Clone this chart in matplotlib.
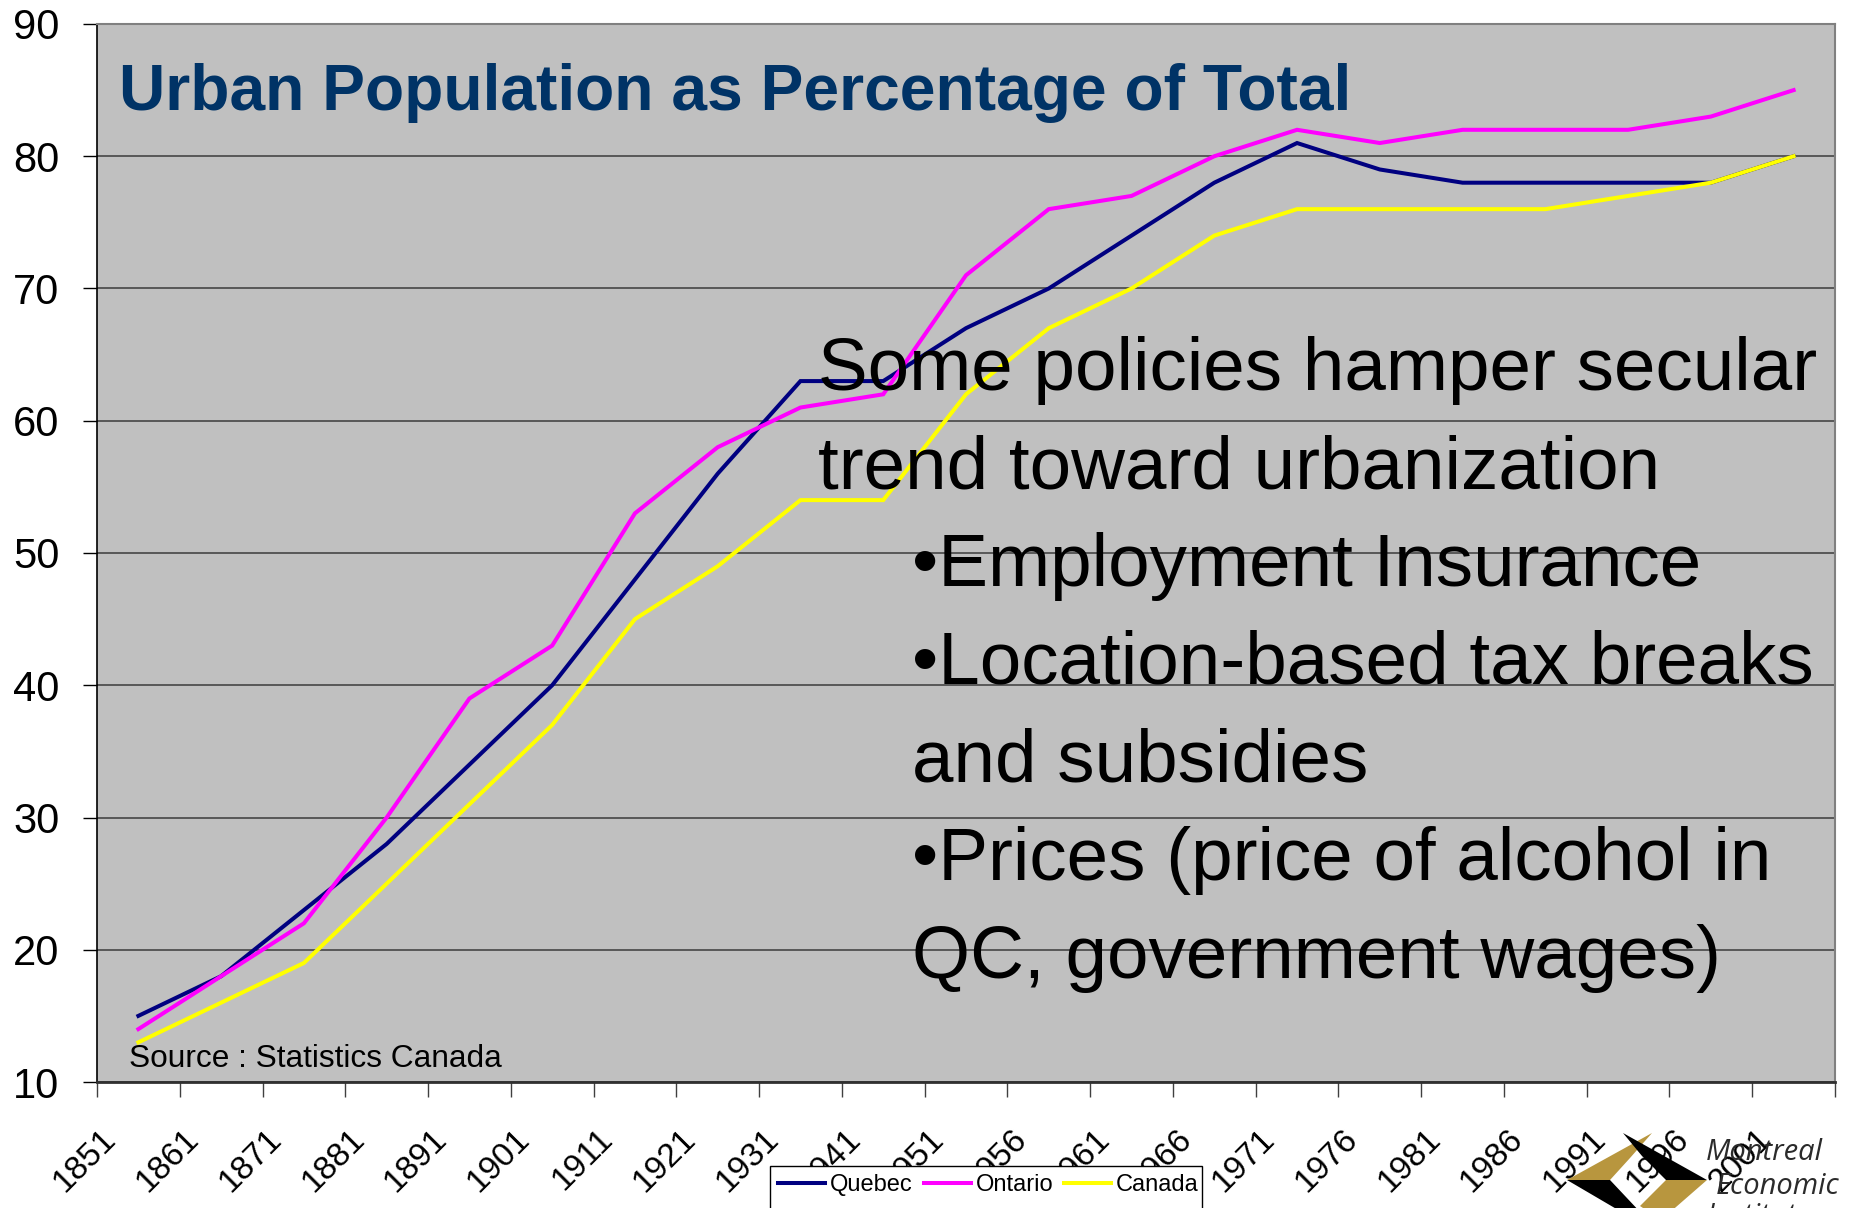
import matplotlib
matplotlib.use("Agg")
import matplotlib.pyplot as plt
import matplotlib.transforms as mtransforms
from matplotlib.patches import Polygon, Rectangle

# ---------------- data ----------------
years = ['1851', '1861', '1871', '1881', '1891', '1901', '1911', '1921', '1931', '1941',
         '1951', '1956', '1961', '1966', '1971', '1976', '1981', '1986', '1991', '1996', '2001']
quebec = [15, 18, 23, 28, 34, 40, 48, 56, 63, 63, 67, 70, 74, 78, 81, 79, 78, 78, 78, 78, 80]
ontario = [14, 18, 22, 30, 39, 43, 53, 58, 61, 62, 71, 76, 77, 80, 82, 81, 82, 82, 82, 83, 85]
canada = [13, 16, 19, 25, 31, 37, 45, 49, 54, 54, 62, 67, 70, 74, 76, 76, 76, 76, 77, 78, 80]
series_names = ['Quebec', 'Ontario', 'Canada']
y_ticks = [10, 20, 30, 40, 50, 60, 70, 80, 90]

title = "Urban Population as Percentage of Total"
source = "Source : Statistics Canada"
note_lines = ["Some policies hamper secular", "trend toward urbanization"]
bullet_lines = ["\u2022Employment Insurance", "\u2022Location-based tax breaks", "and subsidies",
                "\u2022Prices (price of alcohol in", "QC, government wages)"]
logo_words = ["Montreal", "Economic", "Institute"]

# ---------------- style ----------------
plt.rcParams['font.family'] = ['Liberation Sans', 'DejaVu Sans']
W, H = 1858, 1208
fig = plt.figure(figsize=(W / 100, H / 100), dpi=100)
fig.patch.set_facecolor('white')


def fx(x):
    return x / W


def fy(y):
    return 1 - y / H


L, R, T, B = 97, 1835, 24, 1082
ax = fig.add_axes([fx(L), fy(B), (R - L) / W, (B - T) / H])
ax.set_facecolor('#C0C0C0')

colors = ['#000080', '#FF00FF', '#FFFF00']
xs = list(range(len(years)))
for vals, c, name in zip([quebec, ontario, canada], colors, series_names):
    ax.plot(xs, vals, color=c, lw=2.9, label=name, zorder=3, solid_joinstyle='miter')

ax.set_xlim(-0.5, len(years) - 0.5)
ax.set_ylim(10, 90)
ax.set_yticks(y_ticks)
ax.set_yticklabels([str(v) for v in y_ticks], fontsize=30)
ax.tick_params(axis='y', direction='out', length=10, width=1, pad=17, color='black')
ax.yaxis.grid(True, color='#3c3c3c', lw=1.1, zorder=1)
ax.set_axisbelow(True)

# x ticks: labels at category centres, tick marks at boundaries
ax.set_xticks(xs)
ax.set_xticklabels(years, fontsize=24, rotation=45, ha='right', va='top')
ax.set_xticks([i - 0.5 for i in range(len(years) + 1)], minor=True)
ax.tick_params(axis='x', which='major', length=0, pad=30)
ax.tick_params(axis='x', which='minor', direction='out', length=11, width=1, color='#404040')
off = mtransforms.ScaledTranslation(-16 / 100, 0, fig.dpi_scale_trans)
for lab in ax.get_xticklabels():
    lab.set_transform(lab.get_transform() + off)

ax.spines['left'].set_color('black')
ax.spines['left'].set_linewidth(1.2)
ax.spines['bottom'].set_color('#303030')
ax.spines['bottom'].set_linewidth(2.0)
ax.spines['top'].set_color('#808080')
ax.spines['top'].set_linewidth(1.5)
ax.spines['right'].set_color('#808080')
ax.spines['right'].set_linewidth(1.5)

# ---------------- texts ----------------
fig.text(fx(119), fy(110), title, fontsize=46.2, fontweight='bold', color='#003366', va='baseline')
fig.text(fx(129), fy(1067), source, fontsize=22.8, color='black', va='baseline')
y0 = 390
for i, s in enumerate(note_lines):
    fig.text(fx(818), fy(y0 + 98 * i), s, fontsize=53.7, color='black', va='baseline', zorder=5)
for i, s in enumerate(bullet_lines):
    fig.text(fx(912), fy(y0 + 98 * (i + 2)), s, fontsize=53.7, color='black', va='baseline', zorder=5)

# ---------------- legend ----------------
frame = Rectangle((fx(770), fy(1240)), (1202 - 770) / W, (1240 - 1166) / H, transform=fig.transFigure,
                  facecolor='white', edgecolor='black', linewidth=1.0, zorder=4)
fig.add_artist(frame)
leg = fig.legend(loc='upper left', bbox_to_anchor=(fx(770), fy(1166)), bbox_transform=fig.transFigure,
                 ncol=3, fontsize=17, frameon=False, borderaxespad=0,
                 borderpad=0.35, handlelength=2.0, handletextpad=0.2, columnspacing=0.45)
leg.set_zorder(6)

# ---------------- logo ----------------
gold = '#B8963E'
logo = [
    ([(1567, 1180), (1652, 1133), (1630, 1158), (1610, 1180)], gold),
    ([(1623, 1133), (1707, 1180), (1666, 1180), (1642, 1156)], 'black'),
    ([(1567, 1180), (1610, 1180), (1642, 1214), (1625, 1214)], 'black'),
    ([(1707, 1180), (1666, 1180), (1640, 1206), (1652, 1214), (1668, 1214)], gold),
]
for pts, c in logo:
    poly = Polygon([(fx(x), fy(y)) for x, y in pts], closed=True, facecolor=c, edgecolor='none',
                   transform=fig.transFigure)
    fig.add_artist(poly)
for s, x, y in zip(logo_words, [1706, 1716, 1707], [1160, 1194, 1224]):
    fig.text(fx(x), fy(y), s, fontsize=21, style='italic', color='#2b2b2b', va='baseline',
             family=['Open Sans', 'Liberation Sans'])

fig.savefig('out.png', dpi=100)
